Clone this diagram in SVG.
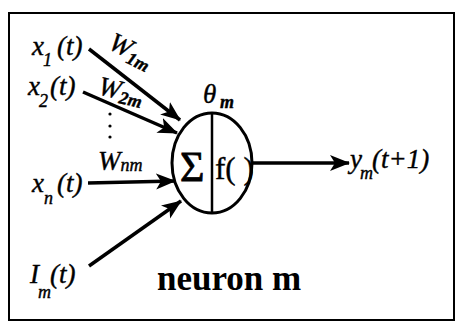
<svg xmlns="http://www.w3.org/2000/svg" width="456" height="324" viewBox="0 0 456 324">
<style>
.m{font-family:"Liberation Serif","DejaVu Serif",serif;font-style:italic;font-size:27px;fill:#000;stroke:#000;stroke-width:0.4}
.s{font-size:18px}
.r{font-family:"Liberation Serif","DejaVu Serif",serif;fill:#000}
.ln{stroke:#000;stroke-width:3.5;fill:none}
</style>
<defs>
<marker id="ah" markerUnits="userSpaceOnUse" markerWidth="22" markerHeight="18" refX="19" refY="8" orient="auto">
<path d="M0,0 L20,8 L0,16 L5,8 z" fill="#000"/>
</marker>
</defs>
<rect x="9" y="13" width="445" height="307" fill="#fff" stroke="#000" stroke-width="2"/>
<g id="connectors">
<line class="ln" x1="89" y1="49" x2="180" y2="120" marker-end="url(#ah)"/>
<line class="ln" x1="83" y1="92" x2="177" y2="133" marker-end="url(#ah)"/>
<line class="ln" x1="88" y1="183" x2="175" y2="181" marker-end="url(#ah)"/>
<line class="ln" x1="89" y1="266" x2="181" y2="201" marker-end="url(#ah)"/>
<line class="ln" x1="253" y1="163" x2="349" y2="163" marker-end="url(#ah)"/>
</g>
<g id="neuron">
<ellipse cx="212" cy="163" rx="40" ry="50" fill="none" stroke="#000" stroke-width="3"/>
<line x1="212" y1="113" x2="212" y2="213" stroke="#000" stroke-width="2.5"/>
<text class="r" x="180" y="181" font-size="42" stroke="#000" stroke-width="0.8">Σ</text>
<text class="r" x="215" y="179" font-size="31" stroke="#000" stroke-width="0.4">f( )</text>
</g>
<g id="theta"><text class="m" x="203" y="103" font-size="30">θ<tspan class="s" x="220" y="108" font-weight="bold">m</tspan></text></g>
<g id="x1"><text class="m" x="32" y="55">x<tspan class="s" x="43" y="66">1</tspan><tspan x="57" y="55">(t)</tspan></text></g>
<g id="w1m"><text class="m" transform="translate(107,48) rotate(26)">W<tspan class="s" dy="5" font-weight="bold">1m</tspan></text></g>
<g id="x2"><text class="m" x="28" y="95">x<tspan class="s" x="39" y="107">2</tspan><tspan x="50" y="95">(t)</tspan></text></g>
<g id="w2m"><text class="m" transform="translate(97,94) rotate(13)">W<tspan class="s" dy="4" font-weight="bold">2m</tspan></text></g>
<g id="dots">
<circle cx="110" cy="114" r="1.6"/>
<circle cx="110" cy="126" r="1.6"/>
<circle cx="110" cy="137" r="1.6"/>
</g>
<g id="wnm"><text class="m" x="98" y="170">W<tspan class="s" font-size="21" dy="1">nm</tspan></text></g>
<g id="xn"><text class="m" x="32" y="192">x<tspan class="s" x="44" y="204">n</tspan><tspan x="57" y="192">(t)</tspan></text></g>
<g id="im"><text class="m" x="30" y="283">I<tspan class="s" x="38" y="298">m</tspan><tspan x="50" y="283">(t)</tspan></text></g>
<g id="ym"><text class="m" x="350" y="168">y<tspan class="s" x="360" y="179">m</tspan><tspan x="372" y="168">(t+1)</tspan></text></g>
<g id="label"><text class="r" x="157" y="290" font-size="35" font-weight="bold">neuron m</text></g>
</svg>
